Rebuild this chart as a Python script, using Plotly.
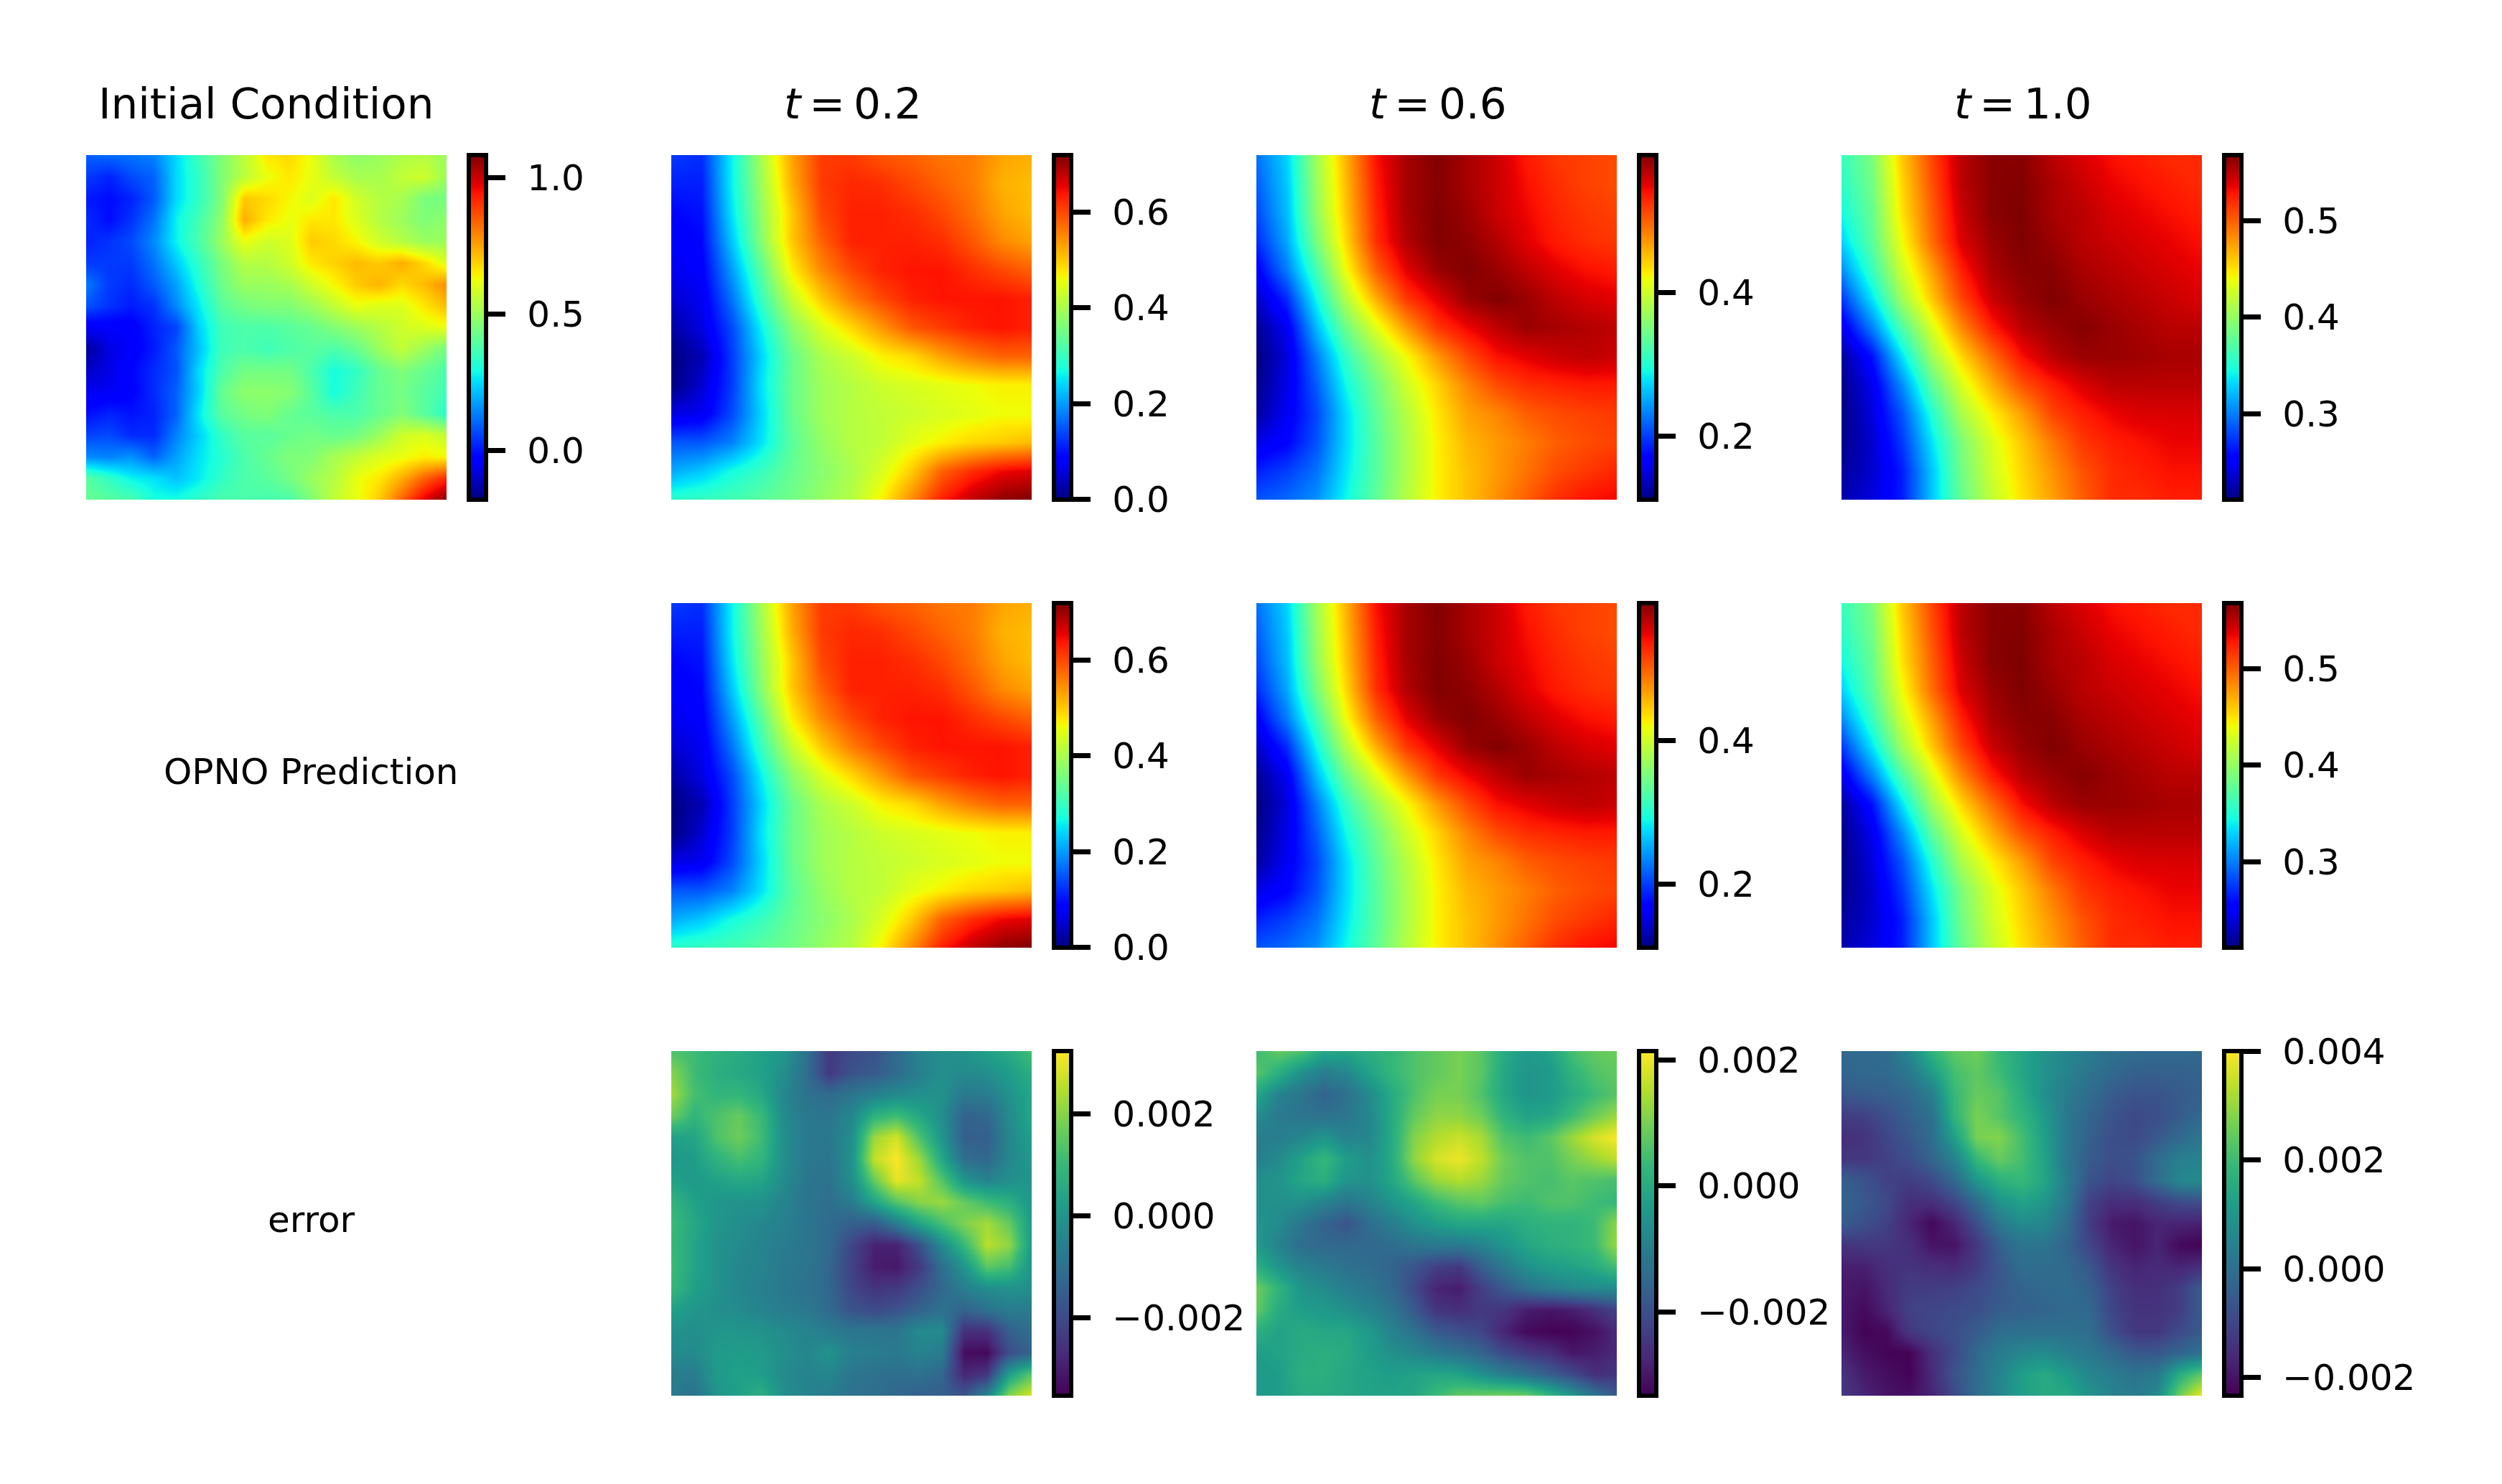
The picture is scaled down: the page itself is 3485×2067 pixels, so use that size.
import numpy as np
import plotly.graph_objects as go
from plotly.colors import sequential

W, H = 3485, 2067

INITIAL = [
[.10,.11,.12,.14,.25,.36,.46,.55,.66,.68,.62,.52,.48,.50,.53,.54,.50],
[.05,.02,.07,.10,.25,.34,.46,.55,.62,.66,.62,.56,.52,.52,.56,.58,.50],
[.01,-.01,.02,.09,.25,.34,.46,.70,.68,.64,.60,.66,.58,.54,.52,.45,.44],
[.03,-.01,.04,.12,.28,.37,.48,.74,.66,.62,.66,.66,.60,.54,.50,.46,.48],
[.02,.04,.07,.15,.28,.38,.50,.62,.58,.60,.70,.68,.64,.58,.54,.50,.50],
[.05,.05,.05,.12,.23,.34,.45,.54,.54,.58,.66,.69,.72,.70,.74,.68,.60],
[.13,.05,.03,.09,.18,.31,.43,.50,.50,.52,.58,.64,.70,.73,.68,.72,.78],
[.08,.04,.01,.04,.15,.27,.40,.44,.46,.46,.50,.56,.62,.60,.60,.66,.72],
[-.05,-.04,-.04,.02,.06,.24,.36,.38,.38,.40,.42,.46,.50,.54,.58,.60,.62],
[-.15,-.07,-.04,.01,.09,.22,.36,.38,.36,.38,.40,.38,.42,.50,.56,.50,.44],
[-.10,-.07,-.02,.03,.08,.25,.38,.44,.44,.44,.38,.30,.34,.42,.46,.42,.38],
[-.05,-.05,-.03,.03,.10,.24,.42,.48,.48,.47,.40,.30,.36,.42,.44,.40,.36],
[-.01,.02,.00,.02,.10,.27,.40,.44,.46,.42,.40,.38,.38,.42,.46,.40,.33],
[.06,.07,.03,.03,.14,.24,.34,.40,.40,.42,.44,.42,.44,.50,.58,.60,.56],
[.15,.14,.16,.10,.18,.26,.32,.38,.42,.46,.46,.52,.56,.60,.62,.65,.64],
[.40,.34,.28,.26,.22,.27,.34,.38,.40,.44,.50,.54,.62,.66,.74,.84,.92],
[.42,.40,.38,.30,.30,.34,.38,.38,.37,.38,.46,.56,.62,.70,.84,.98,1.08],
]
TRUE_02 = [
[.13,.12,.26,.40,.53,.61,.61,.59,.58,.565,.56,.53,.52],
[.11,.11,.26,.39,.52,.61,.625,.62,.60,.58,.56,.52,.51],
[.09,.10,.25,.38,.50,.60,.63,.63,.62,.60,.57,.53,.51],
[.08,.09,.23,.37,.50,.58,.63,.63,.63,.62,.59,.55,.53],
[.07,.08,.20,.33,.47,.55,.60,.63,.64,.64,.62,.60,.58],
[.05,.07,.17,.30,.42,.50,.56,.60,.63,.64,.64,.64,.63],
[.02,.06,.14,.26,.37,.44,.49,.54,.59,.61,.63,.64,.63],
[.00,.03,.13,.24,.34,.40,.43,.47,.49,.53,.56,.58,.58],
[.00,.05,.13,.25,.34,.39,.41,.43,.44,.45,.46,.47,.47],
[.06,.07,.14,.24,.34,.39,.41,.42,.43,.44,.45,.46,.46],
[.15,.15,.18,.25,.33,.38,.41,.42,.45,.47,.49,.50,.51],
[.21,.23,.27,.30,.34,.37,.40,.44,.50,.58,.62,.65,.66],
[.29,.30,.31,.33,.35,.38,.41,.47,.55,.63,.68,.71,.72],
]
TRUE_06 = [
[.225,.27,.375,.46,.54,.575,.59,.575,.56,.535,.52,.515,.51],
[.215,.265,.37,.455,.535,.575,.588,.575,.56,.54,.525,.515,.51],
[.205,.26,.365,.45,.53,.575,.59,.58,.56,.545,.53,.52,.515],
[.19,.25,.35,.44,.525,.57,.59,.585,.57,.55,.535,.525,.52],
[.165,.23,.32,.42,.50,.55,.58,.59,.58,.565,.55,.54,.535],
[.14,.19,.29,.385,.46,.52,.55,.58,.59,.58,.565,.555,.55],
[.12,.16,.26,.345,.41,.47,.52,.545,.565,.58,.575,.57,.565],
[.11,.15,.23,.31,.37,.42,.47,.51,.54,.55,.56,.565,.56],
[.115,.155,.215,.29,.345,.40,.44,.48,.51,.525,.53,.535,.535],
[.125,.16,.205,.275,.335,.385,.43,.465,.48,.50,.51,.515,.52],
[.155,.17,.21,.275,.33,.38,.425,.455,.47,.485,.50,.51,.515],
[.185,.20,.225,.28,.33,.38,.425,.45,.47,.49,.51,.52,.53],
[.21,.22,.24,.29,.335,.385,.425,.45,.475,.50,.525,.54,.545],
]
TRUE_10 = [
[.36,.39,.46,.51,.55,.565,.565,.55,.54,.53,.525,.52,.52],
[.355,.385,.455,.505,.55,.565,.567,.555,.545,.535,.53,.525,.52],
[.345,.38,.45,.50,.545,.565,.568,.555,.55,.54,.535,.53,.525],
[.33,.375,.44,.495,.54,.56,.568,.56,.55,.545,.54,.535,.53],
[.305,.36,.425,.475,.525,.555,.565,.565,.555,.55,.545,.54,.535],
[.275,.335,.405,.46,.51,.545,.56,.568,.56,.555,.55,.545,.54],
[.245,.30,.37,.43,.485,.525,.55,.56,.566,.56,.555,.55,.55],
[.22,.26,.335,.405,.455,.495,.53,.55,.56,.56,.558,.555,.555],
[.215,.245,.305,.375,.43,.47,.505,.525,.54,.55,.55,.55,.55],
[.212,.24,.285,.35,.41,.445,.475,.51,.525,.535,.54,.54,.54],
[.215,.235,.275,.335,.39,.43,.46,.49,.515,.525,.53,.535,.535],
[.22,.235,.265,.325,.385,.425,.455,.48,.505,.52,.525,.53,.53],
[.225,.24,.265,.325,.38,.42,.45,.475,.50,.52,.52,.525,.525],
]
# prediction differs from the truth by less than the colour scale can show
PRED_02, PRED_06, PRED_10 = TRUE_02, TRUE_06, TRUE_10

# errors, in units of 0.001
ERROR_02 = [
[1.3,1.1,.8,.6,.3,.0,-1.0,-2.4,-2.0,-1.8,-1.2,-.5,-.2,-.1,.3,.6,1.2],
[2.0,1.1,.7,.5,.3,-.2,-1.1,-2.4,-1.8,-1.6,-1.2,-.6,-.2,-.3,-.2,.2,.7],
[2.3,1.2,.9,.9,.5,-.4,-1.0,-1.2,-.9,-.6,-.3,-.2,-.1,-.8,-.7,-.1,.5],
[1.7,.9,1.3,1.6,1.0,-.3,-.8,-.9,-.4,.8,1.1,.5,-.2,-1.4,-1.3,-.3,.5],
[.3,.4,1.3,1.7,1.1,-.2,-.8,-.8,-.2,2.2,2.8,1.3,.0,-1.5,-1.5,-.4,.3],
[.0,.2,.8,1.2,.9,-.2,-.8,-.9,-.1,2.6,3.2,2.2,.5,-1.1,-1.3,-.4,.1],
[.3,.1,.3,.5,.4,-.3,-.9,-1.0,-.2,1.6,3.0,2.6,1.4,.0,-.5,-.2,.0],
[.9,.3,.0,-.1,-.1,-.5,-.9,-1.1,-.7,.4,1.4,2.0,2.2,1.6,1.1,.7,.0],
[1.1,.5,.0,-.2,-.4,-.6,-.9,-1.2,-1.5,-1.6,-.7,.4,1.2,1.9,2.3,1.6,.1],
[1.0,.4,-.1,-.3,-.5,-.7,-.9,-1.2,-2.1,-2.9,-2.9,-1.9,-.3,1.0,2.5,2.1,.1],
[1.1,.4,-.1,-.4,-.5,-.8,-.9,-1.3,-2.2,-3.0,-3.1,-2.4,-1.1,.0,1.5,1.2,-.1],
[1.0,.3,-.1,-.4,-.6,-.8,-1.0,-1.3,-2.1,-2.5,-2.4,-1.9,-1.3,-.6,-.2,-.1,-.2],
[.3,.0,-.2,-.3,-.5,-.7,-.8,-1.2,-1.8,-2.0,-1.8,-1.4,-1.0,-1.4,-1.0,-.7,-.7],
[-.1,-.2,.0,.0,-.1,-.3,-.5,-.7,-.9,-.9,-.9,-.3,-.3,-2.6,-2.6,-1.5,-1.1],
[-.3,-.3,.1,.2,.1,-.2,-.4,-.1,-.6,-.7,-.8,-.5,-.7,-3.3,-3.4,-1.9,-1.4],
[-.7,-.7,.1,.3,.2,-.3,-.5,-.4,-.9,-1.0,-1.1,-1.0,-1.3,-2.8,-2.5,.3,1.5],
[-.7,-1.0,-.1,.3,.7,-.2,-.5,-.7,-1.0,-1.1,-1.3,-1.5,-1.5,-1.7,-.4,2.0,2.9],
]
ERROR_06 = [
[.4,.8,.6,-.1,-.1,.1,.3,.6,.8,1.0,.7,.0,-.4,-.2,.5,.8,.9],
[.7,.1,-.6,-1.0,-.8,-.2,.3,.6,.8,1.0,.7,-.1,-.5,-.4,.2,.6,.8],
[-.1,-.9,-1.2,-1.6,-1.3,-.7,.0,.6,1.0,1.0,.6,-.1,-.5,-.4,.0,.4,.7],
[-.7,-1.1,-1.2,-1.3,-1.2,-.8,.0,.8,1.2,1.2,.9,.2,-.2,-.1,.4,.9,1.3],
[-1.0,-1.0,-.8,-.5,-.9,-.8,.0,1.1,1.5,1.7,1.4,.6,.4,.7,1.3,1.8,2.1],
[-1.0,-.7,-.2,.3,-.3,-.6,.0,1.2,1.8,2.0,1.6,.9,.6,.6,1.0,1.3,1.6],
[-.6,-.5,-.1,.1,-.5,-.6,-.1,.7,1.3,1.5,1.3,.8,.6,.5,.7,.6,.5],
[-.6,-.6,-.6,-.9,-1.2,-.9,-.5,-.1,.4,.7,.8,.5,.4,.6,.6,.4,.3],
[-.5,-.7,-1.2,-1.6,-1.9,-1.4,-1.0,-.6,-.3,-.1,-.1,-.1,.1,.2,.2,.4,1.2],
[-.4,-.9,-1.4,-1.5,-1.5,-1.5,-1.4,-1.2,-1.1,-1.1,-.9,-.5,-.1,.1,.2,.4,1.3],
[.1,-.5,-.9,-1.1,-1.3,-1.4,-1.6,-1.9,-2.3,-2.4,-1.7,-1.1,-.6,-.3,-.2,.0,.5],
[.9,.2,-.5,-.7,-1.0,-1.2,-1.5,-2.1,-2.8,-2.9,-2.3,-1.8,-1.3,-1.0,-.8,-.7,-.7],
[.8,.0,-.3,-.4,-.6,-.9,-1.2,-1.8,-2.5,-2.6,-2.4,-2.5,-2.9,-3.0,-2.9,-2.6,-2.2],
[.1,-.2,.0,-.1,-.1,-.4,-.9,-1.3,-1.8,-2.0,-2.2,-2.8,-3.2,-3.3,-3.3,-3.1,-2.7],
[-.3,-.2,.0,.1,.0,-.3,-.6,-.8,-1.1,-1.3,-1.6,-2.1,-2.4,-2.6,-3.0,-2.9,-2.7],
[-.4,-.3,.1,.1,-.1,-.2,-.3,-.2,-.1,-.2,-.6,-1.0,-1.3,-1.7,-2.1,-2.6,-2.5],
[-.4,-.3,.0,.0,-.1,-.2,-.2,-.1,.4,.8,.9,1.0,.9,.3,-.4,-1.2,-1.8],
]
ERROR_10 = [
[-.2,-.2,-.1,.6,1.8,2.4,2.6,1.9,1.4,.9,.6,.3,.0,-.1,-.2,-.2,-.2],
[-.3,-.2,-.2,.2,1.1,2.1,2.4,2.0,1.4,.9,.5,.1,-.2,-.4,-.4,-.4,-.3],
[-.6,-.5,-.4,-.2,.4,1.9,2.5,2.3,1.6,.8,.3,-.1,-.5,-.7,-.7,-.5,-.4],
[-1.2,-1.1,-.8,-.4,.0,1.8,2.7,2.3,1.8,1.1,.2,-.3,-.7,-.9,-.8,-.5,-.2],
[-1.5,-1.4,-1.0,-.6,-.1,1.2,2.7,2.8,2.1,1.2,.2,-.4,-.8,-.9,-.6,-.2,.2],
[-1.3,-1.3,-1.1,-.8,-.3,.5,1.9,2.5,2.1,1.3,.2,-.5,-.8,-.7,-.1,.4,.5],
[-.4,-.7,-1.1,-1.2,-.9,-.2,1.0,1.7,1.9,1.4,.3,-.7,-1.0,-.8,-.1,.6,.7],
[-.3,-.6,-.9,-1.5,-1.5,-1.0,-.1,.9,1.3,1.0,.2,-1.1,-1.5,-1.5,-1.2,-.9,-.8],
[-.5,-.8,-1.1,-1.7,-2.2,-1.7,-.8,.2,.7,.6,-.1,-1.2,-1.9,-2.0,-1.7,-1.7,-1.8],
[-1.4,-1.3,-1.3,-1.5,-2.0,-2.0,-1.3,-.4,.1,.1,-.3,-1.0,-1.7,-2.0,-1.7,-2.2,-2.3],
[-1.8,-1.8,-1.5,-1.4,-1.5,-1.6,-1.2,-.6,-.1,-.1,-.2,-.6,-1.4,-1.7,-1.6,-1.7,-1.5],
[-1.9,-2.0,-1.6,-1.2,-1.2,-1.1,-.9,-.6,-.3,-.2,-.1,-.4,-1.1,-1.5,-1.5,-1.2,-.5],
[-1.9,-2.2,-1.7,-1.1,-1.0,-.9,-.8,-.5,-.4,-.3,-.2,-.2,-1.0,-1.4,-1.4,-1.2,-.5],
[-1.9,-2.3,-2.2,-1.3,-1.0,-.8,-.5,-.1,.0,.0,.0,-.1,-.8,-1.3,-1.3,-.9,-.5],
[-1.7,-2.1,-2.3,-2.3,-1.5,-.9,-.2,.3,.6,.7,.4,.2,-.2,-.6,-.6,-.3,.0],
[-1.4,-1.9,-2.1,-2.3,-1.6,-.7,-.1,.5,1.2,1.5,1.1,.6,.3,.1,.2,1.6,2.4],
[-1.3,-1.7,-2.0,-2.1,-1.7,-.9,-.1,.6,1.2,1.5,1.5,.9,.5,.3,.7,2.6,3.9],
]

JET = [[0,"rgb(0,0,127)"],[.11,"rgb(0,0,255)"],[.125,"rgb(0,0,255)"],[.34,"rgb(0,219,255)"],
       [.35,"rgb(0,229,247)"],[.375,"rgb(20,255,226)"],[.64,"rgb(238,255,8)"],[.65,"rgb(247,245,0)"],
       [.66,"rgb(255,236,0)"],[.89,"rgb(255,19,0)"],[.91,"rgb(232,0,0)"],[1,"rgb(127,0,0)"]]
VIRIDIS = sequential.Viridis

# the page adds an 8px body margin round the figure
COL_X = [112, 927, 1742, 2557]
ROW_Y = [208, 832, 1456]
PW, PH = 502, 480

# row, column, data, scale factor, colour map, lower, upper, ticks, tick labels
PANELS = [
 (0,0,INITIAL,1,JET,-.179,1.084,[0,.5,1],["0.0","0.5","1.0"]),
 (0,1,TRUE_02,1,JET,-.0008,.719,[0,.2,.4,.6],["0.0","0.2","0.4","0.6"]),
 (0,2,TRUE_06,1,JET,.111,.591,[.2,.4],["0.2","0.4"]),
 (0,3,TRUE_10,1,JET,.211,.568,[.3,.4,.5],["0.3","0.4","0.5"]),
 (1,1,PRED_02,1,JET,-.0008,.719,[0,.2,.4,.6],["0.0","0.2","0.4","0.6"]),
 (1,2,PRED_06,1,JET,.111,.591,[.2,.4],["0.2","0.4"]),
 (1,3,PRED_10,1,JET,.211,.568,[.3,.4,.5],["0.3","0.4","0.5"]),
 (2,1,ERROR_02,1e-3,VIRIDIS,-.00353,.00323,[-.002,0,.002],["\u22120.002","0.000","0.002"]),
 (2,2,ERROR_06,1e-3,VIRIDIS,-.00333,.00214,[-.002,0,.002],["\u22120.002","0.000","0.002"]),
 (2,3,ERROR_10,1e-3,VIRIDIS,-.00234,.00401,[-.002,0,.002,.004],["\u22120.002","0.000","0.002","0.004"]),
]

FONT = "DejaVu Sans"
PAD = "\u00a0\u200a"   # widens the gap between a tick and its label
fig = go.Figure()
layout = {}
for i,(r,c,data,k,cmap,lo,hi,tv,tt) in enumerate(PANELS):
    s = "" if i == 0 else str(i+1)
    x0, y0 = COL_X[c], ROW_Y[r]
    z = np.array(data, dtype=float)*k
    n = z.shape[0]
    fig.add_trace(go.Heatmap(
        z=z, xaxis="x"+s, yaxis="y"+s, colorscale=cmap, zmin=lo, zmax=hi, zsmooth="best",
        colorbar=dict(
            x=(x0+PW+31)/W, xanchor="left", xpad=0, y=1-y0/H, yanchor="top", ypad=0,
            thickness=24, thicknessmode="pixels", len=PH, lenmode="pixels",
            outlinewidth=6, outlinecolor="black", borderwidth=0,
            ticks="outside", ticklen=24, tickwidth=6.5, tickcolor="black",
            tickmode="array", tickvals=tv, ticktext=[PAD+t for t in tt],
            tickfont=dict(family=FONT, size=50, color="black"),
        ),
    ))
    ax = dict(visible=False, showgrid=False, zeroline=False, fixedrange=True)
    layout["xaxis"+s] = dict(ax, domain=[x0/W,(x0+PW)/W], range=[0,n-1], anchor="y"+s)
    layout["yaxis"+s] = dict(ax, domain=[1-(y0+PH)/H,1-y0/H], range=[n-1,0], anchor="x"+s)

def note(text, px, py, size):
    return dict(text=text, x=px/W, y=1-py/H, xref="paper", yref="paper", showarrow=False,
                xanchor="center", yanchor="middle", font=dict(family=FONT, size=size, color="black"))

annotations = [
    note("Initial Condition", 363, 136, 59.5),
    note("<i>t</i>\u2009=\u20090.2", 1180, 136, 59.5),
    note("<i>t</i>\u2009=\u20090.6", 1995, 136, 59.5),
    note("<i>t</i>\u2009=\u20091.0", 2810, 136, 59.5),
    note("OPNO Prediction", 425, 1067, 50),
    note("error", 425, 1691, 50),
]
fig.update_layout(width=W, height=H, margin=dict(l=0,r=0,t=0,b=0,pad=0), autosize=False,
                  paper_bgcolor="white", plot_bgcolor="white", annotations=annotations, **layout)
fig.write_html("out.html")
